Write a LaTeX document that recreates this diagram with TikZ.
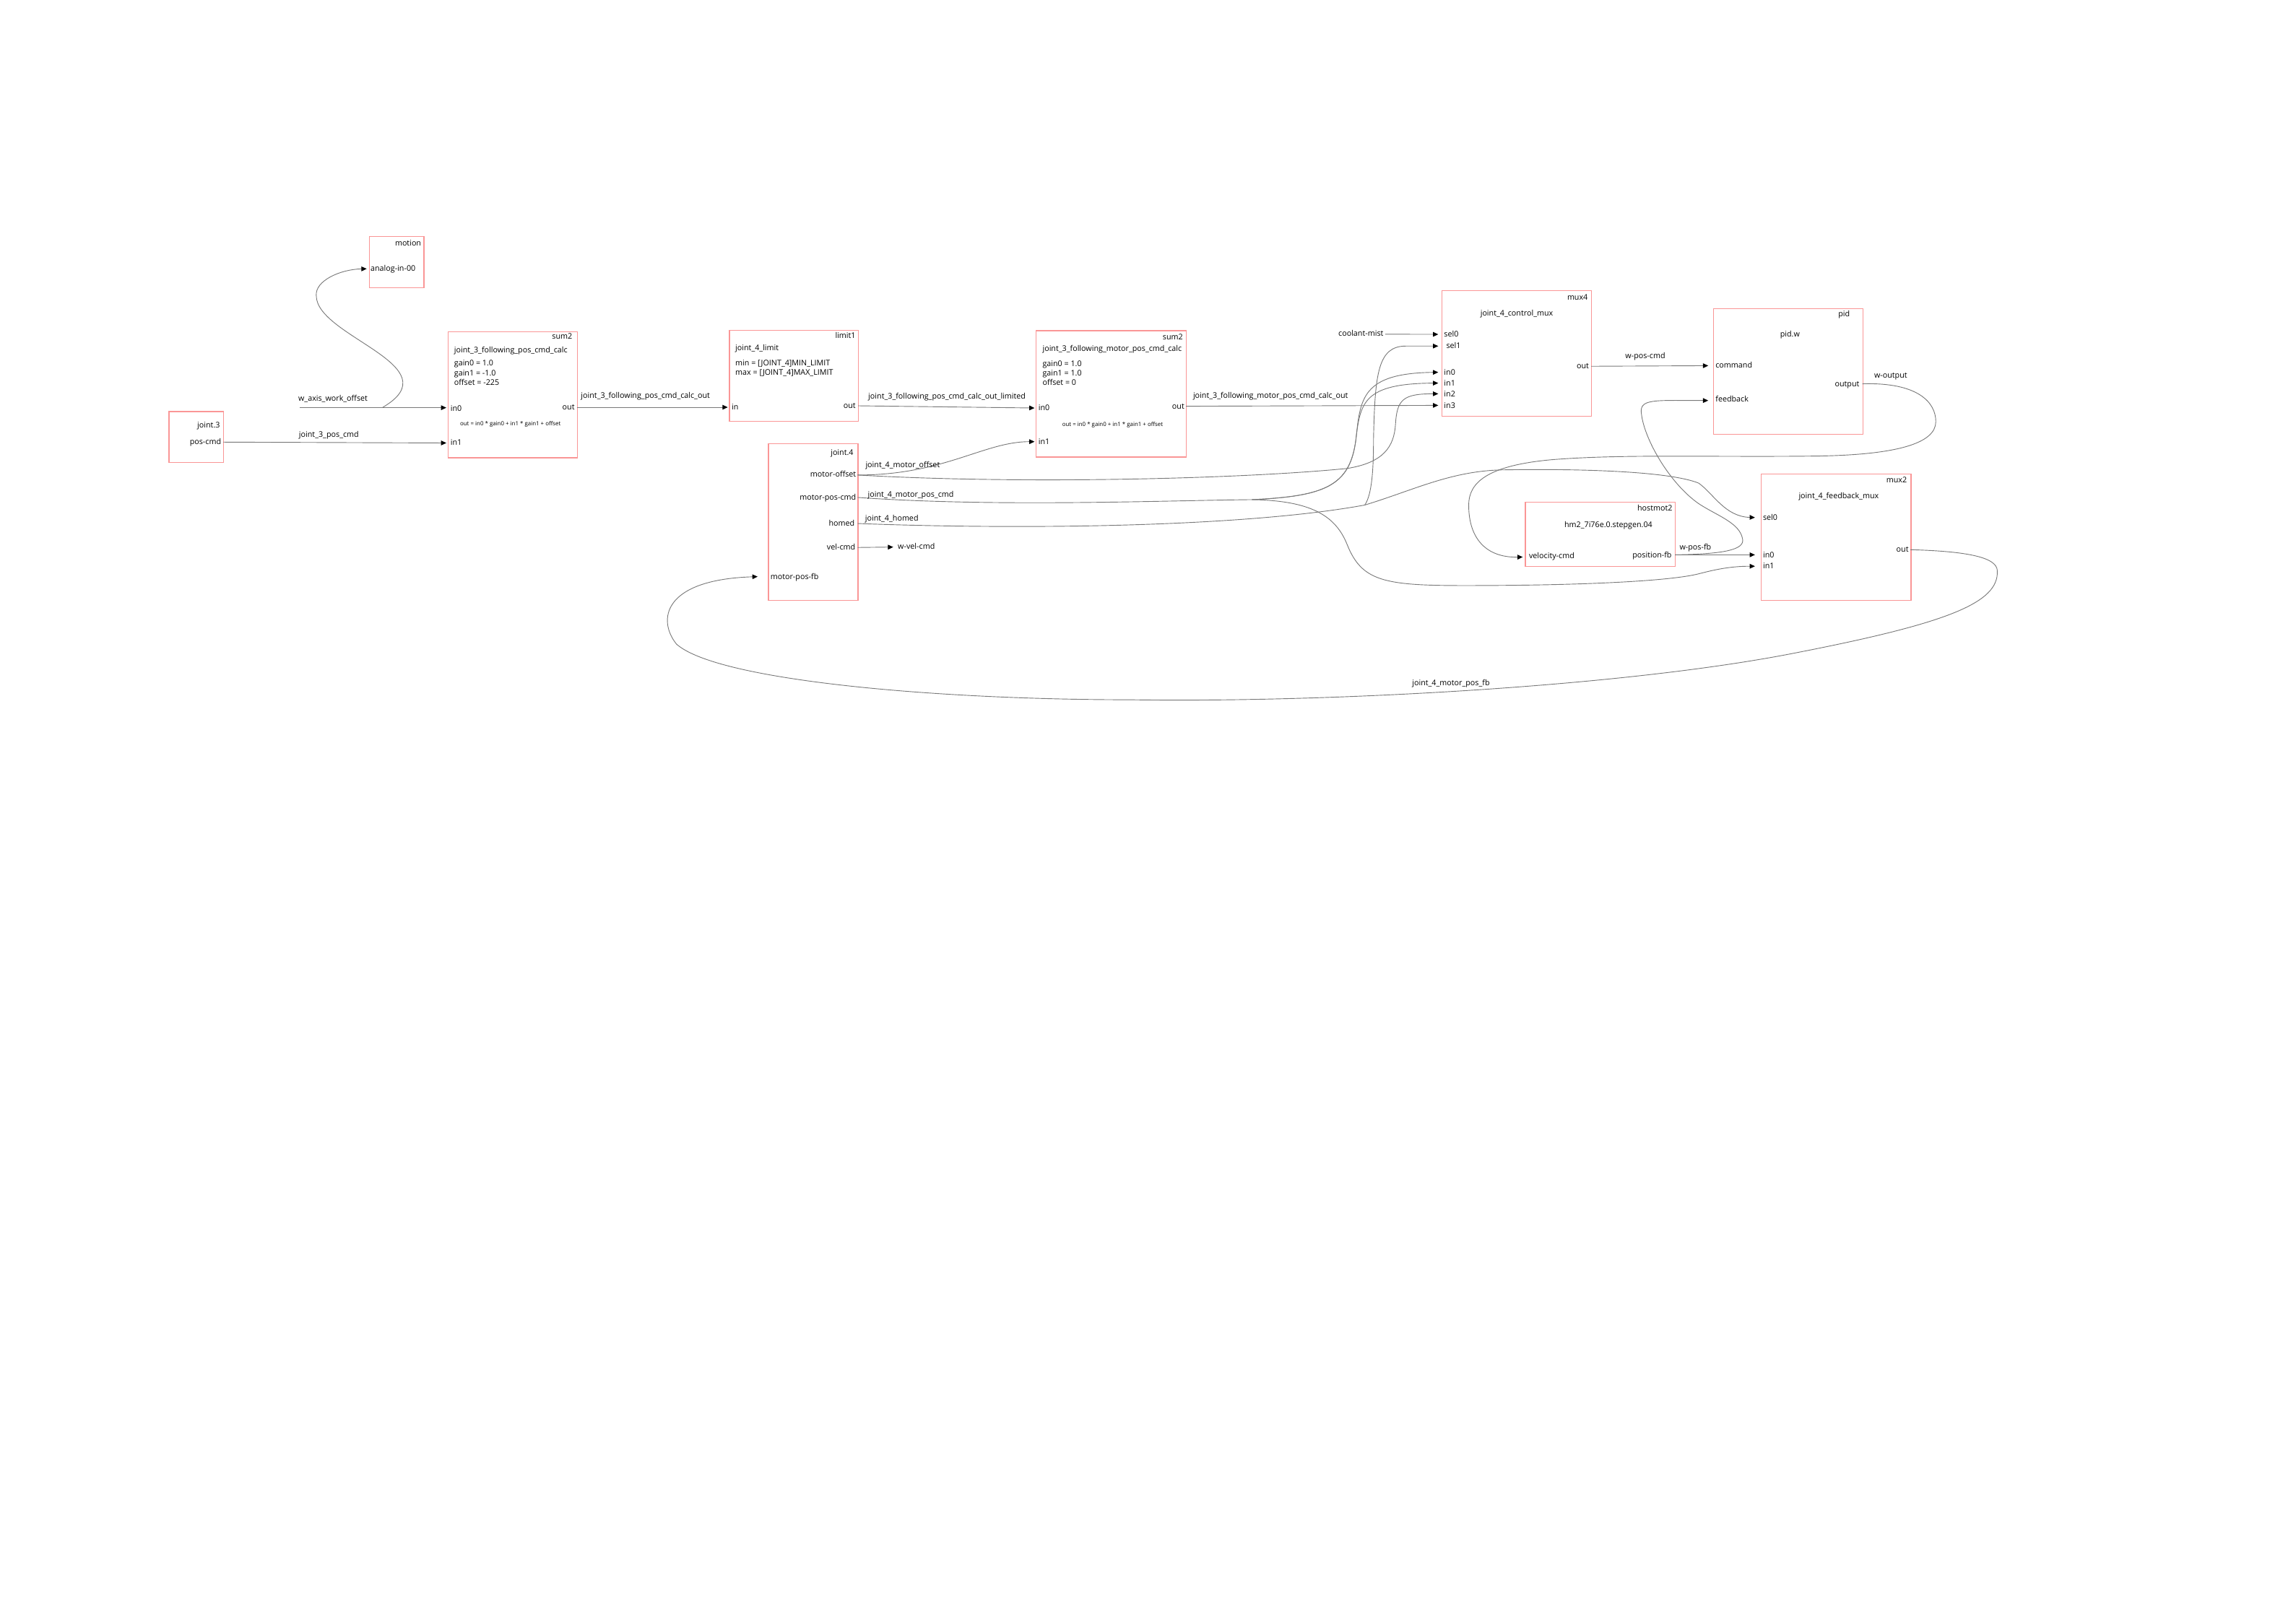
\documentclass[tikz,border=0pt]{standalone}
\usepackage{fontspec}
\setmainfont{Open Sans}
\usetikzlibrary{arrows.meta}
\definecolor{boxred}{RGB}{250,150,150}
\definecolor{wiregray}{RGB}{120,120,120}
\newcommand{\myfs}{\fontsize{5.3}{6.6}\selectfont}
\newcommand{\myfsm}{\fontsize{3.9}{4.6}\selectfont}
\begin{document}
\begin{tikzpicture}[x=1pt,y=-1pt,
  box/.style={draw=boxred,line width=0.6pt,inner sep=0pt,anchor=north west},
  t/.style={inner sep=0pt,font=\myfs,text=black},
  fm/.style={inner sep=0pt,font=\myfsm,text=black},
  wire/.style={draw=wiregray,line width=0.45pt},
  arr/.style={wire,-{Triangle[length=3.6pt,width=3.2pt,color=black]}}]
\useasboundingbox (0,0) rectangle (1568,1107.3);

% ---------- boxes ----------
\node[box,minimum width=37.2pt,minimum height=35pt] (motion) at (252,161.1) {};
\node[box,minimum width=37.4pt,minimum height=34.9pt] (joint3) at (115.1,280.8) {};
\node[box,minimum width=88.2pt,minimum height=85.9pt] (sumA) at (305.7,226.5) {};
\node[box,minimum width=88.1pt,minimum height=62.2pt] (limit) at (497.9,225.2) {};
\node[box,minimum width=61.2pt,minimum height=106.9pt] (joint4) at (524.5,302.8) {};
\node[box,minimum width=102.6pt,minimum height=86.3pt] (sumB) at (707.4,225.6) {};
\node[box,minimum width=102.3pt,minimum height=86pt] (mux4) at (984.3,198.1) {};
\node[box,minimum width=102.1pt,minimum height=85.9pt] (pid) at (1169.7,210.4) {};
\node[box,minimum width=102.5pt,minimum height=44.1pt] (hm2) at (1041.4,342.6) {};
\node[box,minimum width=102.4pt,minimum height=86.3pt] (mux2) at (1202.4,323.4) {};

% ---------- box texts ----------
\node[t,anchor=base east] (motion-t) at (287.8,167.8) {motion};
\node[t,anchor=base west] (motion-ainl) at (252.9,185.4) {analog-in-00};

\node[t,anchor=base east] (j3-t) at (150.4,292) {joint.3};
\node[t,anchor=base east] (j3-pcl) at (151.2,303.8) {pos-cmd};

\node[t,anchor=base east] (sa-t) at (391,231.8) {sum2};
\node[t,anchor=base west] (sa-n) at (310,240.7) {joint\_3\_following\_pos\_cmd\_calc};
\node[t,anchor=base west] (sa-g0) at (310,249.8) {gain0 = 1.0};
\node[t,anchor=base west] (sa-g1) at (310,256.5) {gain1 = -1.0};
\node[t,anchor=base west] (sa-of) at (310,263.2) {offset = -225};
\node[t,anchor=base west] (sa-in0l) at (307.5,281) {in0};
\node[t,anchor=base east] (sa-outl) at (392.6,280) {out};
\node[fm,anchor=base] (sa-f) at (348.6,291) {out = in0 * gain0 + in1 * gain1 + offset};
\node[t,anchor=base west] (sa-in1l) at (307.5,304.1) {in1};

\node[t,anchor=base east] (li-t) at (584.5,231.2) {limit1};
\node[t,anchor=base west] (li-n) at (502,239.7) {joint\_4\_limit};
\node[t,anchor=base west] (li-min) at (502,249.6) {min = [JOINT\_4]MIN\_LIMIT};
\node[t,anchor=base west] (li-max) at (502,256.3) {max = [JOINT\_4]MAX\_LIMIT};
\node[t,anchor=base west] (li-inl) at (499.5,280.1) {in};
\node[t,anchor=base east] (li-outl) at (584.5,279) {out};

\node[t,anchor=base east] (j4-t) at (583,310.8) {joint.4};
\node[t,anchor=base east] (j4-mol) at (584.8,326) {motor-offset};
\node[t,anchor=base east] (j4-mpcl) at (584.8,341.6) {motor-pos-cmd};
\node[t,anchor=base east] (j4-hl) at (583.8,359.4) {homed};
\node[t,anchor=base east] (j4-vcl) at (584.3,375.7) {vel-cmd};
\node[t,anchor=base west] (j4-mpfl) at (526,395.8) {motor-pos-fb};

\node[t,anchor=base east] (sb-t) at (808,232) {sum2};
\node[t,anchor=base west] (sb-n) at (711.8,240.2) {joint\_3\_following\_motor\_pos\_cmd\_calc};
\node[t,anchor=base west] (sb-g0) at (711.8,250.1) {gain0 = 1.0};
\node[t,anchor=base west] (sb-g1) at (711.8,256.6) {gain1 = 1.0};
\node[t,anchor=base west] (sb-of) at (711.8,263.2) {offset = 0};
\node[t,anchor=base west] (sb-in0l) at (709,280.5) {in0};
\node[fm,anchor=base] (sb-f) at (759.8,291.5) {out = in0 * gain0 + in1 * gain1 + offset};
\node[t,anchor=base west] (sb-in1l) at (709,303.5) {in1};
\node[t,anchor=base east] (sb-outl) at (809,279.3) {out};

\node[t,anchor=base east] (m4-t) at (1084.5,204.8) {mux4};
\node[t,anchor=base] (m4-n) at (1035.8,215.8) {joint\_4\_control\_mux};
\node[t,anchor=base west] (m4-sel0l) at (986,230) {sel0};
\node[t,anchor=base west] (m4-sel1l) at (987.5,238.2) {sel1};
\node[t,anchor=base west] (m4-in0l) at (986,256.1) {in0};
\node[t,anchor=base west] (m4-in1l) at (986,263.5) {in1};
\node[t,anchor=base west] (m4-in2l) at (986,270.8) {in2};
\node[t,anchor=base west] (m4-in3l) at (986,278.7) {in3};
\node[t,anchor=base east] (m4-outl) at (1085.3,252) {out};

\node[t,anchor=base east] (pid-t) at (1263.5,216.4) {pid};
\node[t,anchor=base] (pid-n) at (1222.4,230.3) {pid.w};
\node[t,anchor=base west] (pid-cmdl) at (1171.4,251.3) {command};
\node[t,anchor=base west] (pid-fbl) at (1171.4,274.7) {feedback};
\node[t,anchor=base east] (pid-outl) at (1270,264) {output};

\node[t,anchor=base east] (hm-t) at (1142.3,349.2) {hostmot2};
\node[t,anchor=base] (hm-n) at (1098.4,360.2) {hm2\_7i76e.0.stepgen.04};
\node[t,anchor=base west] (hm-vell) at (1044,381.6) {velocity-cmd};
\node[t,anchor=base east] (hm-posl) at (1141.8,380.8) {position-fb};

\node[t,anchor=base east] (m2-t) at (1302.4,329.8) {mux2};
\node[t,anchor=base] (m2-n) at (1255.7,340.8) {joint\_4\_feedback\_mux};
\node[t,anchor=base west] (m2-sel0l) at (1203.8,355.3) {sel0};
\node[t,anchor=base west] (m2-in0l) at (1203.8,380.8) {in0};
\node[t,anchor=base west] (m2-in1l) at (1203.8,388.6) {in1};
\node[t,anchor=base east] (m2-outl) at (1303.6,377) {out};

% ---------- pin coordinates ----------
\coordinate (mo-ain) at (250.4,183.6);
\coordinate (j3-pc) at (152.5,302);
\coordinate (s1-in0) at (304.8,278.5);
\coordinate (s1-in1) at (304.8,302.6);
\coordinate (s1-out) at (393.9,278.2);
\coordinate (lim-in) at (497,278.2);
\coordinate (lim-out) at (586,277.2);
\coordinate (s2-in0) at (706.5,278.7);
\coordinate (s2-in1) at (706.5,301.7);
\coordinate (s2-out) at (810,277.5);
\coordinate (j4-mo) at (585.7,324.5);
\coordinate (j4-mpc) at (585.7,339.8);
\coordinate (j4-h) at (585.7,357.6);
\coordinate (j4-vc) at (585.7,374);
\coordinate (j4-mpf) at (517.4,393.9);
\coordinate (wvc) at (610,373.7);
\coordinate (m4-sel0) at (982.2,228.4);
\coordinate (m4-sel1) at (982.2,236.4);
\coordinate (m4-in0) at (982.2,254.3);
\coordinate (m4-in1) at (982.2,261.7);
\coordinate (m4-in2) at (982.2,269);
\coordinate (m4-in3) at (982.2,276.9);
\coordinate (m4-out) at (1086.6,250.2);
\coordinate (pid-cmd) at (1166.6,249.8);
\coordinate (pid-fb) at (1166.6,273.6);
\coordinate (pid-out) at (1271.8,262.2);
\coordinate (hm-vel) at (1039.9,380.5);
\coordinate (hm-pos) at (1143.9,379);
\coordinate (m2-sel0) at (1198.5,353.5);
\coordinate (m2-in0) at (1198.5,379);
\coordinate (m2-in1) at (1198.5,386.8);
\coordinate (m2-out) at (1304.7,375.5);
\coordinate (waxis) at (204.8,278.5);
\coordinate (waxis-br) at (261,278.5);
\coordinate (cm) at (945.9,228.3);
\coordinate (mpc-br) at (855,341.3);
\coordinate (h-br) at (932,345);

% ---------- wires ----------
\draw[arr] (waxis) -- (s1-in0);
\draw[arr] (waxis-br) .. controls (310,250) and (216,230) .. (216,202) .. controls (215,192) and (232,184) .. (mo-ain);
\draw[arr] (j3-pc) -- (s1-in1);
\draw[arr] (s1-out) -- (lim-in);
\draw[arr] (lim-out) -- (s2-in0);
\draw[arr] (j4-mo) .. controls (645,324.5) and (672,301.7) .. (s2-in1);
\draw[arr] (j4-mo) .. controls (700,331) and (850,327) .. (920,320) .. controls (945,316) and (952,305) .. (953,290) .. controls (954,273) and (958,269) .. (m4-in2);
\draw[wire] (j4-mpc) .. controls (680,346.5) and (790,342) .. (mpc-br);
\draw[arr] (mpc-br) .. controls (905,339) and (922,332) .. (926,300) .. controls (929,272) and (930,255) .. (m4-in0);
\draw[arr] (mpc-br) .. controls (905,339) and (922,332) .. (926,300) .. controls (929,275) and (931,262) .. (m4-in1);
\draw[arr] (mpc-br) .. controls (895,342) and (912,352) .. (920,372) .. controls (930,397) and (945,400) .. (1000,400) .. controls (1080,400) and (1140,397) .. (1160,392) .. controls (1175,388) and (1185,386.8) .. (m2-in1);
\draw[wire] (j4-h) .. controls (700,362) and (850,360) .. (h-br);
\draw[arr] (h-br) .. controls (937,338) and (938,320) .. (938,300) .. controls (939,255) and (941,236.5) .. (960,236.4) -- (m4-sel1);
\draw[arr] (h-br) .. controls (965,335) and (990,322) .. (1025,321) .. controls (1080,320) and (1140,322) .. (1160,330) .. controls (1170,337) and (1178,353) .. (m2-sel0);
\draw[arr] (j4-vc) -- (wvc);
\draw[arr] (cm) -- (m4-sel0);
\draw[arr] (s2-out) -- (m4-in3);
\draw[arr] (m4-out) -- (pid-cmd);
\draw[arr] (pid-out) .. controls (1310,261) and (1322,275) .. (1322,288) .. controls (1322,303) and (1295,310.5) .. (1243,311.5) .. controls (1170,312.5) and (1110,310) .. (1060,314) .. controls (1015,318) and (1003,330) .. (1003,345) .. controls (1003,368) and (1015,381) .. (hm-vel);
\draw[arr] (hm-pos) -- (m2-in0);
\draw[arr] (hm-pos) .. controls (1175,378.5) and (1192,376) .. (1190,368) .. controls (1188,357) and (1172,352) .. (1160,344) .. controls (1140,330) and (1123,300) .. (1121,283) .. controls (1119,272) and (1130,273.6) .. (pid-fb);
\draw[arr] (m2-out) .. controls (1340,376.5) and (1364,380) .. (1364,390) .. controls (1365,412) and (1330,426) .. (1221,447) .. controls (1100,470) and (900,480) .. (772,478) .. controls (640,478) and (490,465) .. (462,440) .. controls (449,424) and (452,396) .. (j4-mpf);

% ---------- wire labels ----------
\node[t,anchor=base] (l-waxis) at (227.4,273.9) {w\_axis\_work\_offset};
\node[t,anchor=base] (l-j3pc) at (224.6,298.6) {joint\_3\_pos\_cmd};
\node[t,anchor=base] (l-calcout) at (440.8,272.2) {joint\_3\_following\_pos\_cmd\_calc\_out};
\node[t,anchor=base] (l-limited) at (646.7,272.6) {joint\_3\_following\_pos\_cmd\_calc\_out\_limited};
\node[t,anchor=base] (l-mo) at (616.5,319.6) {joint\_4\_motor\_offset};
\node[t,anchor=base] (l-mpc) at (622,339.7) {joint\_4\_motor\_pos\_cmd};
\node[t,anchor=base] (l-homed) at (609,356.1) {joint\_4\_homed};
\node[t,anchor=base west] (l-wvc) at (613,375.2) {w-vel-cmd};
\node[t,anchor=base] (l-mcalc) at (867.7,271.8) {joint\_3\_following\_motor\_pos\_cmd\_calc\_out};
\node[t,anchor=base] (l-cm) at (929.4,229.8) {coolant-mist};
\node[t,anchor=base] (l-wpc) at (1123.6,245.1) {w-pos-cmd};
\node[t,anchor=base] (l-wout) at (1291.2,258.3) {w-output};
\node[t,anchor=base] (l-wpf) at (1157.8,375.8) {w-pos-fb};
\node[t,anchor=base] (l-mpf) at (990.9,468.2) {joint\_4\_motor\_pos\_fb};
\end{tikzpicture}
\end{document}
